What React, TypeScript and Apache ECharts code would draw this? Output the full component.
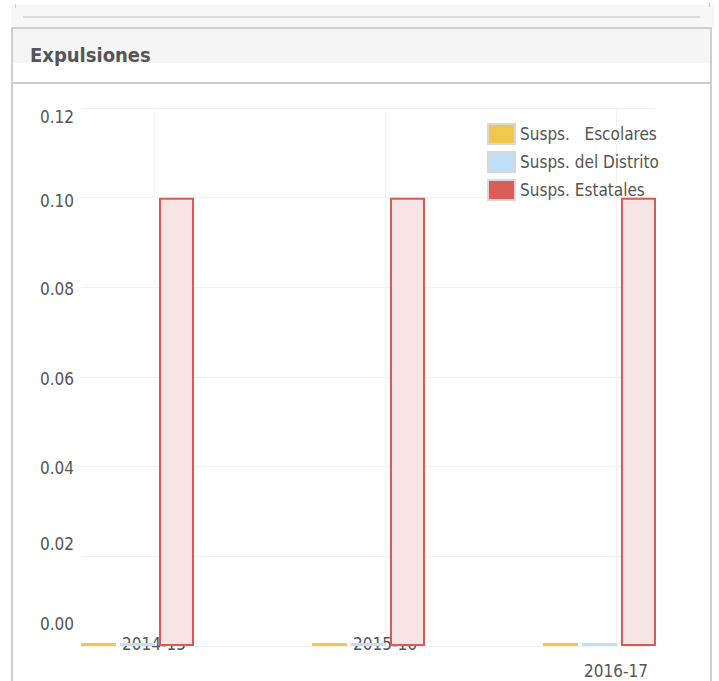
import React, { useEffect, useRef } from "react";
import * as echarts from "echarts";

// ---- data ----
const categories = ["2014-15", "2015-16", "2016-17"];
const seriesNames = ["Susps.   Escolares", "Susps. del Distrito", "Susps. Estatales"];
const escolares = [0, 0, 0];
const distrito = [0, 0, 0];
const estatales = [0.1, 0.1, 0.1];
const yMin = 0;
const yMax = 0.12;
const yStep = 0.02;
const chartTitle = "Expulsiones";

// ---- styles ----
const FONT = '"DejaVu Sans Condensed", "DejaVu Sans", Verdana, sans-serif';
const TEXT = "#555";
const YELLOW = "#f1c84e";
const BLUE = "#bfe0f6";
const RED = "#dc5a56";
const PINK = "#f7e4e4";
// vertical nudge (px, + = down) of each y label, in tick order from min
const yLabelShift = [-22, -12, 1, 2, 2, 3, 9];
// vertical drop (px) of each category label
const xLabelDrop = [0, 0, 27];

function pad(s: number) {
  return s >= 0 ? [2 * s, 0, 0, 0] : [0, 0, -2 * s, 0];
}

export default function App() {
  const ref = useRef<HTMLDivElement>(null);

  useEffect(() => {
    if (!ref.current) return;
    const chart = echarts.init(ref.current, undefined, { renderer: "svg" });

    const yRich: Record<string, any> = {};
    yLabelShift.forEach((s, i) => {
      yRich["o" + i] = { padding: pad(s), fontSize: 17, color: TEXT, fontFamily: FONT };
    });
    const xRich: Record<string, any> = {};
    xLabelDrop.forEach((d, i) => {
      xRich["c" + i] = { padding: [2 * d, 0, 0, 0], fontSize: 17, color: TEXT, fontFamily: FONT };
    });

    const barCommon = {
      type: "bar",
      xAxisIndex: 1,
      yAxisIndex: 1,
      barGap: "11.4%",
      clip: false,
      silent: true,
    };

    chart.setOption({
      animation: false,
      textStyle: { fontFamily: FONT },
      title: {
        text: chartTitle,
        left: 30,
        top: 45,
        padding: 0,
        textStyle: { fontFamily: FONT, fontSize: 20, fontWeight: "bold", color: TEXT },
      },
      legend: {
        orient: "vertical",
        left: 487,
        top: 123,
        padding: 0,
        itemWidth: 27,
        itemHeight: 20,
        itemGap: 6,
        icon: "rect",
        selectedMode: false,
        itemStyle: { borderColor: "#d8d8d8", borderWidth: 2 },
        textStyle: { fontFamily: FONT, fontSize: 17, color: TEXT },
        data: [
          { name: seriesNames[0], itemStyle: { color: YELLOW } },
          { name: seriesNames[1], itemStyle: { color: BLUE } },
          { name: seriesNames[2], itemStyle: { color: "#dc5c58" } },
        ],
      },
      grid: [
        { left: 81, right: 64, top: 108, bottom: 35, outerBoundsMode: "none" },
        { left: 154, right: 103, top: 108, bottom: 35, outerBoundsMode: "none" },
      ],
      xAxis: [
        { gridIndex: 0, type: "category", data: categories, show: false },
        {
          gridIndex: 1,
          type: "category",
          data: categories,
          boundaryGap: false,
          axisLine: { show: false },
          axisTick: { show: false },
          splitLine: { show: true, lineStyle: { color: "#f3f3f3", width: 1 } },
          axisLabel: {
            interval: 0,
            margin: -2,
            verticalAlign: "middle",
            hideOverlap: false,
            formatter: (v: string, i: number) => `{c${i}|${v}}`,
            rich: xRich,
          },
        },
      ],
      yAxis: [
        {
          gridIndex: 0,
          type: "value",
          min: yMin,
          max: yMax,
          interval: yStep,
          axisLine: { show: false },
          axisTick: { show: false },
          splitLine: { show: true, lineStyle: { color: "#f1f1f1", width: 1 } },
          axisLabel: {
            margin: 7,
            formatter: (v: number, i: number) => `{o${i}|${v.toFixed(2)}}`,
            rich: yRich,
          },
        },
        { gridIndex: 1, type: "value", min: yMin, max: yMax, interval: yStep, show: false },
      ],
      series: [
        {
          ...barCommon,
          name: seriesNames[0],
          data: escolares,
          barWidth: 35,
          barMinHeight: 3,
          itemStyle: { color: YELLOW },
        },
        {
          ...barCommon,
          name: seriesNames[1],
          data: distrito,
          barWidth: 35,
          barMinHeight: 3,
          itemStyle: { color: BLUE },
        },
        {
          ...barCommon,
          name: seriesNames[2],
          data: estatales,
          barWidth: 35,
          itemStyle: { color: PINK, borderColor: RED, borderWidth: 2 },
        },
        {
          // empty spacer column: shifts each group left as in the source chart
          ...barCommon,
          name: "spacer",
          data: [],
          barWidth: 29,
        },
      ],
    });

    return () => chart.dispose();
  }, []);

  const abs = (s: React.CSSProperties): React.CSSProperties => ({ position: "absolute", ...s });

  return (
    <div style={abs({ left: 0, top: 0, width: 719, height: 681, overflow: "hidden", background: "#fff" })}>
      {/* top strip */}
      <div style={abs({ left: 11, top: 5, width: 703, height: 23, background: "#f7f7f7" })} />
      <div style={abs({ left: 23, top: 16, width: 677, height: 2, background: "#dcdcdc" })} />
      <div style={abs({ left: 15, top: 4, width: 1, height: 4, background: "#ccc" })} />
      <div style={abs({ left: 709, top: 3, width: 1, height: 4, background: "#ccc" })} />
      {/* panel */}
      <div
        style={abs({
          left: 11,
          top: 27,
          width: 697,
          height: 700,
          borderLeft: "2px solid #cfcfcf",
          borderRight: "2px solid #cfcfcf",
          borderTop: "2px solid #cfcfcf",
          background: "#fff",
        })}
      />
      <div style={abs({ left: 13, top: 29, width: 697, height: 34, background: "#f5f5f5" })} />
      <div style={abs({ left: 13, top: 82, width: 697, height: 2, background: "#cfcfcf" })} />
      <div ref={ref} style={abs({ left: 0, top: 0, width: 719, height: 681 })} />
    </div>
  );
}
